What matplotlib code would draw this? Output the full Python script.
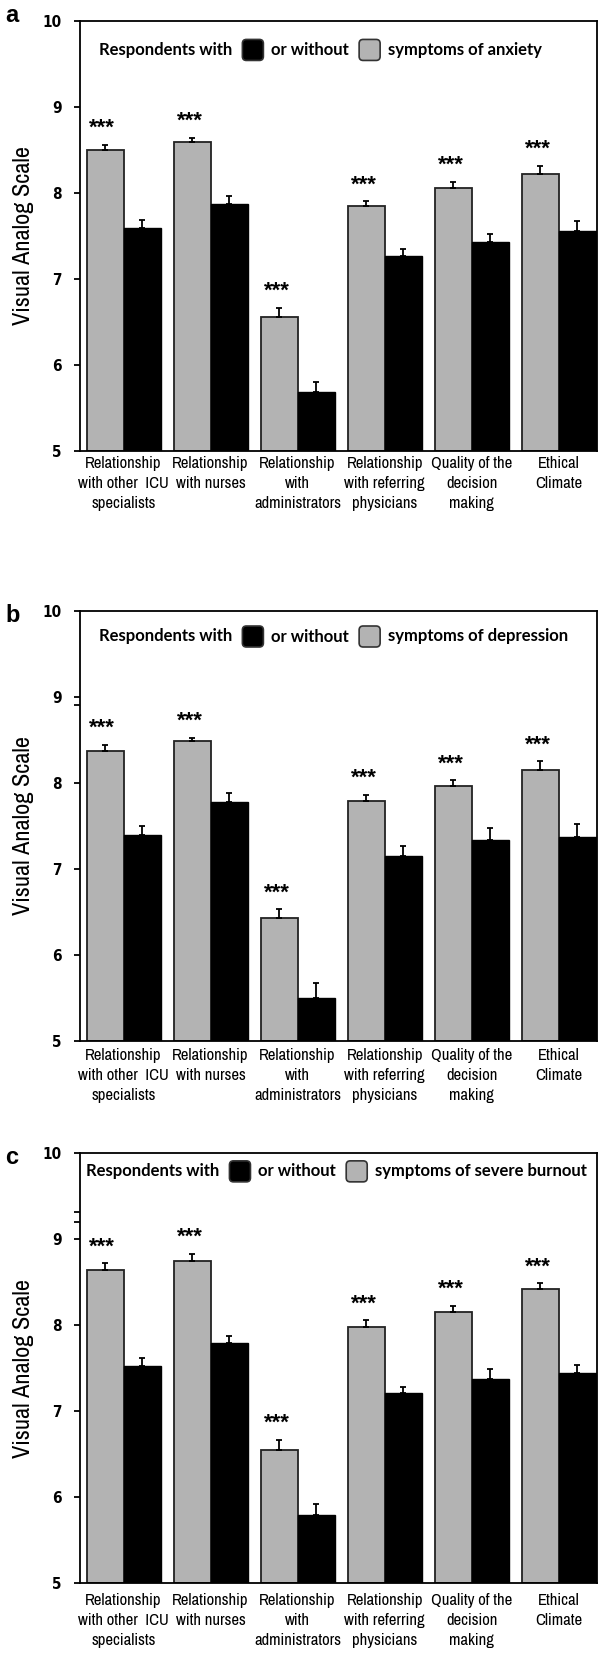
import matplotlib
matplotlib.use("Agg")
import matplotlib.pyplot as plt
from matplotlib.patches import FancyBboxPatch
from matplotlib.transforms import IdentityTransform
import numpy as np

# ------------------------------------------------------------------------------
# Data (Visual Analog Scale, mean + SEM)
categories = [
    "Relationship\nwith other  ICU\nspecialists",
    "Relationship\nwith nurses",
    "Relationship\nwith\nadministrators",
    "Relationship\nwith referring\nphysicians",
    "Quality of the\ndecision\nmaking",
    "Ethical\nClimate",
]
conditions = ["anxiety", "depression", "severe burnout"]
panel_letters = ["a", "b", "c"]

# respondents without symptoms (grey bars)
anxiety_without = [8.50, 8.59, 6.56, 7.84, 8.05, 8.22]
anxiety_without_err = [0.06, 0.05, 0.10, 0.06, 0.08, 0.09]
depression_without = [8.37, 8.48, 6.43, 7.79, 7.96, 8.15]
depression_without_err = [0.07, 0.04, 0.10, 0.07, 0.07, 0.10]
burnout_without = [8.64, 8.75, 6.55, 7.98, 8.15, 8.42]
burnout_without_err = [0.08, 0.08, 0.12, 0.08, 0.08, 0.07]

# respondents with symptoms (black bars)
anxiety_with = [7.59, 7.87, 5.68, 7.26, 7.43, 7.56]
anxiety_with_err = [0.09, 0.09, 0.12, 0.09, 0.09, 0.11]
depression_with = [7.39, 7.77, 5.50, 7.15, 7.33, 7.37]
depression_with_err = [0.11, 0.11, 0.17, 0.11, 0.14, 0.15]
burnout_with = [7.53, 7.80, 5.80, 7.21, 7.38, 7.45]
burnout_with_err = [0.09, 0.07, 0.12, 0.07, 0.11, 0.09]

significance = ["***"] * 6
yticks = [5, 6, 7, 8, 9, 10]
# stray extra tick marks on the axis of panels b and c
extra_ticks = [[], [8.9], [9.2, 9.32]]

without_vals = [anxiety_without, depression_without, burnout_without]
without_errs = [anxiety_without_err, depression_without_err, burnout_without_err]
with_vals = [anxiety_with, depression_with, burnout_with]
with_errs = [anxiety_with_err, depression_with_err, burnout_with_err]

# ------------------------------------------------------------------------------
narrow = ["Liberation Sans Narrow", "Archivo Narrow", "DejaVu Sans"]
key_font = ["Lato", "DejaVu Sans"]
grey = "#b3b3b3"

W, H = 598, 1653
fig = plt.figure(figsize=(W / 100, H / 100), dpi=100)

# axes boxes in pixels: (top, bottom)
boxes = [(20.7, 450.7), (610.7, 1040.7), (1153.3, 1583.3)]
letter_y = [16, 615, 1157]
key_pos = [(0.037, 0.932), (0.037, 0.940), (0.012, 0.958)]
label_pad = [4, 5, 7]
ax_left, ax_right = 80, 597

renderer = fig.canvas.get_renderer()
x = np.arange(len(categories))
bw = 0.425

for i in range(3):
    top, bot = boxes[i]
    ax = fig.add_axes([ax_left / W, 1 - bot / H, (ax_right - ax_left) / W, (bot - top) / H])

    wo, wo_e = np.array(without_vals[i]), np.array(without_errs[i])
    wi, wi_e = np.array(with_vals[i]), np.array(with_errs[i])

    ax.bar(x - bw / 2, wo - 5, bw, bottom=5, color=grey, edgecolor="#222222", linewidth=1.3, zorder=2)
    ax.bar(x + bw / 2, wi - 5, bw, bottom=5, color="black", edgecolor="black", linewidth=1.0, zorder=2)
    ax.errorbar(x - bw / 2, wo, yerr=[np.zeros_like(wo_e), wo_e], fmt="none", ecolor="black",
                elinewidth=1.3, capsize=2.2, capthick=1.3, zorder=3)
    ax.errorbar(x + bw / 2, wi, yerr=[np.zeros_like(wi_e), wi_e], fmt="none", ecolor="black",
                elinewidth=1.3, capsize=2.2, capthick=1.3, zorder=3)

    for j, s in enumerate(significance):
        ax.text(x[j] - bw / 2 - 0.03, wo[j] + wo_e[j] + 0.19, s, ha="center", va="center",
                fontsize=16, fontweight="bold", family=["Liberation Sans", "DejaVu Sans"])

    ax.set_xlim(-0.5, 5.44)
    ax.set_ylim(5, 10)
    ax.set_yticks(yticks)
    ax.set_yticklabels([str(v) for v in yticks], fontsize=11, fontweight="bold",
                       family="DejaVu Sans", fontstretch="condensed")
    ax.set_yticks(extra_ticks[i], minor=True)
    ax.set_xticks(x)
    ax.set_xticklabels(categories, fontsize=12, family=narrow, linespacing=1.42, va="top")
    ax.tick_params(axis="x", length=0, pad=label_pad[i])
    ax.tick_params(axis="y", which="both", direction="out", length=4, width=1.3, pad=9)
    for sp in ax.spines.values():
        sp.set_linewidth(1.3)
    ax.set_ylabel("Visual Analog Scale", fontsize=17.5, family=narrow)
    ax.yaxis.set_label_coords(-0.089, 0.5)

    # key: Respondents with [black] or without [grey] symptoms of ...
    kx, ky = key_pos[i]
    t = ax.text(kx, ky, "Respondents with", transform=ax.transAxes, ha="left", va="center",
                fontsize=12, fontweight="bold", family=key_font)
    bb = t.get_window_extent(renderer=renderer)
    yc = (bb.y0 + bb.y1) / 2
    cx = bb.x1
    parts = [("box", "black"), ("text", "or without"), ("box", grey),
             ("text", "symptoms of " + conditions[i])]
    for kind, val in parts:
        if kind == "box":
            cx += 10
            p = FancyBboxPatch((cx, yc - 10.5), 21, 21, boxstyle="round,pad=0,rounding_size=4",
                               facecolor=val, edgecolor="#333333", linewidth=1.2,
                               transform=IdentityTransform())
            ax.add_patch(p)
            cx += 21
        else:
            cx += 8
            t = ax.text(cx, yc, val, transform=IdentityTransform(), ha="left", va="center",
                        fontsize=12, fontweight="bold", family=key_font)
            cx = t.get_window_extent(renderer=renderer).x1

    fig.text(5 / W, 1 - letter_y[i] / H, panel_letters[i], ha="left", va="center",
             fontsize=17, fontweight="bold", family=["Liberation Sans", "DejaVu Sans"])

fig.savefig("out.png", dpi=100)
